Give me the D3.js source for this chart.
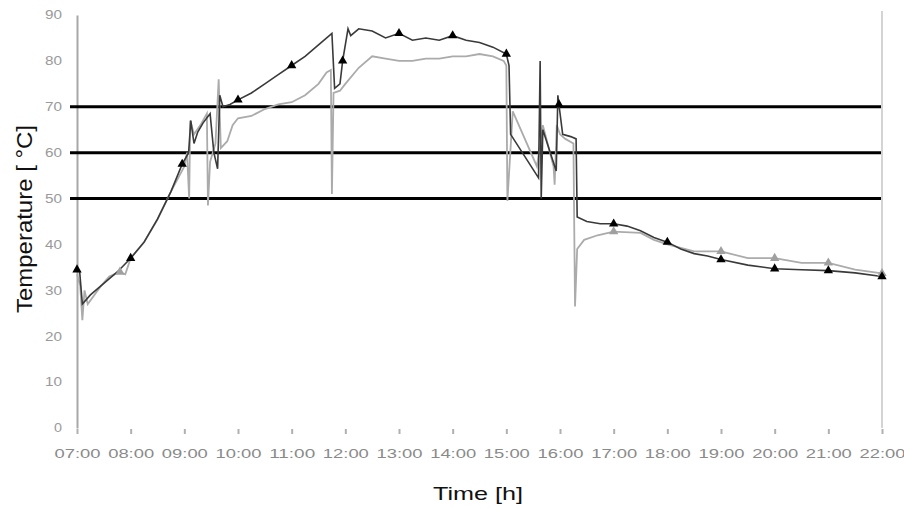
<!DOCTYPE html>
<html>
<head>
<meta charset="utf-8">
<script src="https://cdn.jsdelivr.net/npm/d3@7"></script>
<style>
  body { margin: 0; background: #fff; }
  svg { font-family: "Liberation Sans", Arial, sans-serif; }
</style>
</head>
<body>
<svg width="904" height="508"></svg>
<script>
// series: time in decimal hours, temperature in °C
var darkTime = [7.00, 7.05, 7.10, 7.25, 7.5, 7.75, 8.00, 8.25, 8.50, 8.75, 8.96, 9.08, 9.12, 9.18, 9.25, 9.35, 9.48, 9.55, 9.62, 9.66, 9.72, 9.85,
  10.00, 10.25, 10.50, 10.75, 11.00, 11.25, 11.50, 11.75, 11.80, 11.90, 11.95, 12.05, 12.10, 12.25, 12.5, 12.75, 13.00, 13.25, 13.5, 13.75,
  14.00, 14.25, 14.5, 14.75, 15.00, 15.05, 15.08, 15.60, 15.63, 15.65, 15.68, 15.93, 15.96, 15.98, 16.05, 16.2, 16.3, 16.32, 16.5, 16.75,
  17.00, 17.25, 17.5, 17.75, 18.00, 18.25, 18.5, 18.75, 19.00, 19.5, 20.00, 20.5, 21.00, 21.5, 22.00];
var darkTemp = [34.5, 34, 27, 29, 31.5, 34, 37, 40.5, 45.5, 51.5, 57.5, 60, 67, 62, 64.5, 66.5, 68.5, 60, 56.5, 72.5, 70, 70.5,
  71.5, 73, 75, 77, 79, 81, 83.5, 86, 74, 75, 80, 87, 85.5, 87, 86.5, 85, 86, 84.5, 85, 84.5,
  85.5, 84.5, 84, 83, 81.5, 79, 64, 54.5, 80, 50, 65, 56, 72.5, 70.5, 64, 63.5, 63, 46, 45, 44.5,
  44.5, 44, 43, 41.5, 40.5, 39, 38, 37.5, 36.7, 35.5, 34.7, 34.5, 34.3, 33.8, 33];

var grayTime = [7.00, 7.06, 7.10, 7.14, 7.2, 7.45, 7.6, 7.8, 7.9, 8.00, 8.25, 8.50, 8.75, 9.00, 9.05, 9.09, 9.11, 9.18, 9.3, 9.42, 9.44, 9.48,
  9.58, 9.64, 9.68, 9.8, 9.9, 10.00, 10.25, 10.5, 10.75, 11.00, 11.25, 11.5, 11.65, 11.73, 11.75, 11.78, 11.9, 12.0, 12.25, 12.5, 12.75,
  13.0, 13.25, 13.5, 13.75, 14.0, 14.25, 14.5, 14.75, 14.95, 15.00, 15.02, 15.12, 15.57, 15.68, 15.88, 15.90, 15.94, 16.0, 16.1, 16.25,
  16.28, 16.32, 16.45, 16.7, 17.00, 17.5, 17.75, 18.00, 18.5, 19.00, 19.5, 20.00, 20.5, 21.00, 21.5, 22.00];
var grayTemp = [33.5, 31, 23.5, 30, 27, 31, 33, 34, 33.5, 37, 40.5, 45.5, 51.5, 57, 60, 50, 67, 64, 66, 68.5, 48.5, 58,
  62, 76, 61, 62.5, 66, 67.5, 68, 69.5, 70.5, 71, 72.5, 75, 77.5, 78, 51, 73, 73.5, 75, 78.5, 81, 80.5,
  80, 80, 80.5, 80.5, 81, 81, 81.5, 81, 80, 79, 49.5, 69, 57, 66, 57, 53, 66, 64, 63, 62,
  26.5, 39, 41, 42, 42.8, 42.5, 41, 40, 38.5, 38.5, 37, 37, 36, 36, 34.5, 33.7];

// hourly markers
var darkMarkTime = [7, 8, 8.96, 10, 11, 11.95, 13, 14, 15, 15.98, 17, 18, 19, 20, 21, 22];
var darkMarkTemp = [34.5, 37, 57.5, 71.5, 79, 80, 86, 85.5, 81.5, 70.5, 44.5, 40.5, 36.7, 34.7, 34.3, 33];
var grayMarkTime = [7.8, 17, 19, 20, 21, 22];
var grayMarkTemp = [34, 42.8, 38.5, 37, 36, 33.7];

var thresholds = [50, 60, 70];
var hourTicks = d3.range(7, 23);
var yTicks = d3.range(0, 100, 10);

var svg = d3.select("svg");

var x = d3.scaleLinear().domain([7, 22]).range([77, 882]);
var y = d3.scaleLinear().domain([0, 90]).range([428, 15]);

function zip(ts, vs) { return ts.map(function(t, i) { return [t, vs[i]]; }); }

var line = d3.line()
    .x(function(d) { return x(d[0]); })
    .y(function(d) { return y(d[1]); });

// light border on the right
svg.append("line")
    .attr("x1", x(22)).attr("x2", x(22))
    .attr("y1", y(90) - 4).attr("y2", y(0))
    .attr("stroke", "#d4d4d4")
    .attr("stroke-width", 2);

// y axis
var gy = svg.append("g")
    .attr("transform", "translate(" + x(7) + ",0)")
    .call(d3.axisLeft(y).tickValues(yTicks).tickSize(0).tickPadding(15));
gy.select(".domain").attr("stroke", "#a8a8a8").attr("stroke-width", 2);
gy.selectAll("text")
    .attr("fill", "#9a9a9a")
    .attr("font-size", 12)
    .attr("textLength", function(d) { return d < 10 ? 8 : 17; })
    .attr("lengthAdjust", "spacingAndGlyphs");

// x axis
var gx = svg.append("g")
    .attr("transform", "translate(0," + (y(0) + 1) + ")")
    .call(d3.axisBottom(x).tickValues(hourTicks).tickSize(5).tickPadding(15)
      .tickFormat(function(h) { return (h < 10 ? "0" : "") + h + ":00"; }));
gx.select(".domain").remove();
gx.selectAll(".tick line").attr("stroke", "#b0b0b0").attr("stroke-width", 2);
gx.selectAll("text")
    .attr("fill", "#8a8a8a")
    .attr("font-size", 12)
    .attr("textLength", 46)
    .attr("lengthAdjust", "spacingAndGlyphs");

// threshold lines
svg.append("g").selectAll("line")
  .data(thresholds)
  .enter().append("line")
    .attr("x1", 70).attr("x2", 881)
    .attr("y1", function(d) { return y(d); })
    .attr("y2", function(d) { return y(d); })
    .attr("stroke", "#000")
    .attr("stroke-width", 3);

// series
svg.append("path")
    .datum(zip(grayTime, grayTemp))
    .attr("fill", "none")
    .attr("stroke", "#ababab")
    .attr("stroke-width", 1.8)
    .attr("d", line);

svg.append("path")
    .datum(zip(darkTime, darkTemp))
    .attr("fill", "none")
    .attr("stroke", "#3a3a3a")
    .attr("stroke-width", 1.6)
    .attr("d", line);

var tri = d3.symbol().type(d3.symbolTriangle).size(38);

svg.append("g").selectAll("path")
  .data(zip(grayMarkTime, grayMarkTemp))
  .enter().append("path")
    .attr("transform", function(d) { return "translate(" + x(d[0]) + "," + y(d[1]) + ")"; })
    .attr("d", tri)
    .attr("fill", "#a0a0a0");

svg.append("g").selectAll("path")
  .data(zip(darkMarkTime, darkMarkTemp))
  .enter().append("path")
    .attr("transform", function(d) { return "translate(" + x(d[0]) + "," + y(d[1]) + ")"; })
    .attr("d", tri)
    .attr("fill", "#000");

// axis titles
svg.append("text")
    .attr("x", 478)
    .attr("y", 500)
    .attr("text-anchor", "middle")
    .attr("font-size", 19)
    .attr("textLength", 90)
    .attr("lengthAdjust", "spacingAndGlyphs")
    .attr("fill", "#111")
    .text("Time [h]");

svg.append("text")
    .attr("transform", "translate(32,219) rotate(-90)")
    .attr("text-anchor", "middle")
    .attr("font-size", 22)
    .attr("textLength", 188)
    .attr("lengthAdjust", "spacingAndGlyphs")
    .attr("fill", "#111")
    .text("Temperature [ °C]");
</script>
</body>
</html>
